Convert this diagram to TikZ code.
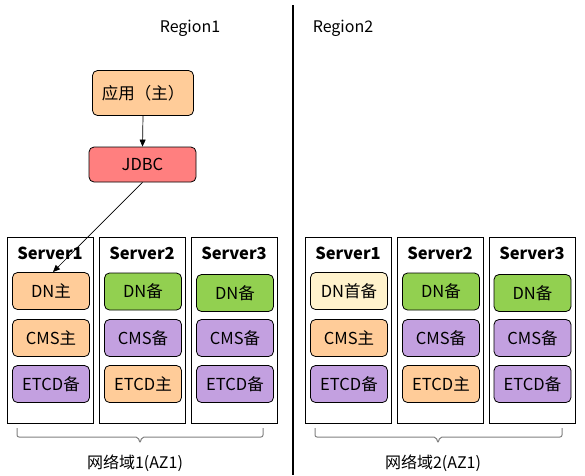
\documentclass[tikz,border=0pt]{standalone}
\usepackage{fontspec}
\setmainfont{Noto Sans CJK SC}
\usetikzlibrary{arrows.meta}
\definecolor{corange}{HTML}{FFCC99}
\definecolor{cgreen}{HTML}{92D050}
\definecolor{cpurple}{HTML}{C3A0E0}
\definecolor{cyellow}{HTML}{FFF2CC}
\definecolor{cred}{HTML}{FF7F7F}
\definecolor{cbrace}{HTML}{808080}
\begin{document}
\begin{tikzpicture}[x=1pt,y=-1pt,
  lbl/.style={font=\fontsize{16}{18}\selectfont},
  srv/.style={draw=black,line width=0.9pt,fill=white},
  srvlbl/.style={font=\fontsize{16.5}{18}\selectfont\bfseries},
  comp/.style={draw=black,line width=0.8pt,rounded corners=5pt,font=\fontsize{16.5}{18}\selectfont,inner sep=0pt},
  brc/.style={draw=cbrace,line width=1pt,rounded corners=2pt},
  arr/.style={draw=black,line width=0.7pt,-{Triangle[length=7pt,width=6pt]}}
]
\useasboundingbox (0,0) rectangle (585,475);
\fill[white] (0,0) rectangle (585,475);
% divider
\draw[line width=2pt] (293,5) -- (293,475);
\node[lbl] (r1) at (190,28) {Region1};
\node[lbl] (r2) at (343,28) {Region2};
% app and jdbc
\node[comp,fill=corange,minimum width=101pt,minimum height=45pt] (app) at (143,93) {应用（主）};
\node[comp,fill=cred,minimum width=107pt,minimum height=35pt] (jdbc) at (142.5,164.5) {JDBC};
% servers
\newcommand{\serverbox}[3]{%
  \node[srv,minimum width=86pt,minimum height=186pt,inner sep=0pt] (#1) at (#2,330) {};
  \node[srvlbl] (#1l) at (#2,253) {#3};
}
\serverbox{sA}{50}{Server1}
\serverbox{sB}{142}{Server2}
\serverbox{sC}{234}{Server3}
\serverbox{sD}{348}{Server1}
\serverbox{sE}{440}{Server2}
\serverbox{sF}{532}{Server3}
\newcommand{\compbox}[5]{%
  \node[comp,fill=#4,minimum width=77pt,minimum height=37pt] (#1) at (#2,#3) {#5};
}
% region1
\compbox{a1}{51}{291}{corange}{DN主}
\compbox{a2}{51}{338}{corange}{CMS主}
\compbox{a3}{51}{384}{cpurple}{ETCD备}
\compbox{b1}{143}{291.5}{cgreen}{DN备}
\compbox{b2}{143}{338}{cpurple}{CMS备}
\compbox{b3}{143}{384}{corange}{ETCD主}
\compbox{c1}{235}{293}{cgreen}{DN备}
\compbox{c2}{235}{338}{cpurple}{CMS备}
\compbox{c3}{235}{384}{cpurple}{ETCD备}
% region2
\compbox{d1}{349}{291}{cyellow}{DN首备}
\compbox{d2}{349}{338}{corange}{CMS主}
\compbox{d3}{349}{384}{cpurple}{ETCD备}
\compbox{e1}{441}{291.5}{cgreen}{DN备}
\compbox{e2}{441}{338}{cpurple}{CMS备}
\compbox{e3}{441}{384}{corange}{ETCD主}
\compbox{f1}{532.5}{293}{cgreen}{DN备}
\compbox{f2}{532.5}{338}{cpurple}{CMS备}
\compbox{f3}{532.5}{384}{cpurple}{ETCD备}
% arrows
\draw[arr] (app.south) -- (jdbc.north);
\coordinate (dntip) at (53,272);
\draw[arr] (jdbc.south) -- (dntip);
% braces
\draw[brc] (17,428) -- (17,437) -- (138,437) -- (140,443) -- (142,437) -- (263,437) -- (263,428);
\draw[brc] (315,428) -- (315,437) -- (436,437) -- (438,443) -- (440,437) -- (562,437) -- (562,428);
\node[lbl] (z1) at (135,463) {网络域1(AZ1)};
\node[lbl] (z2) at (433,463) {网络域2(AZ1)};
\end{tikzpicture}
\end{document}
